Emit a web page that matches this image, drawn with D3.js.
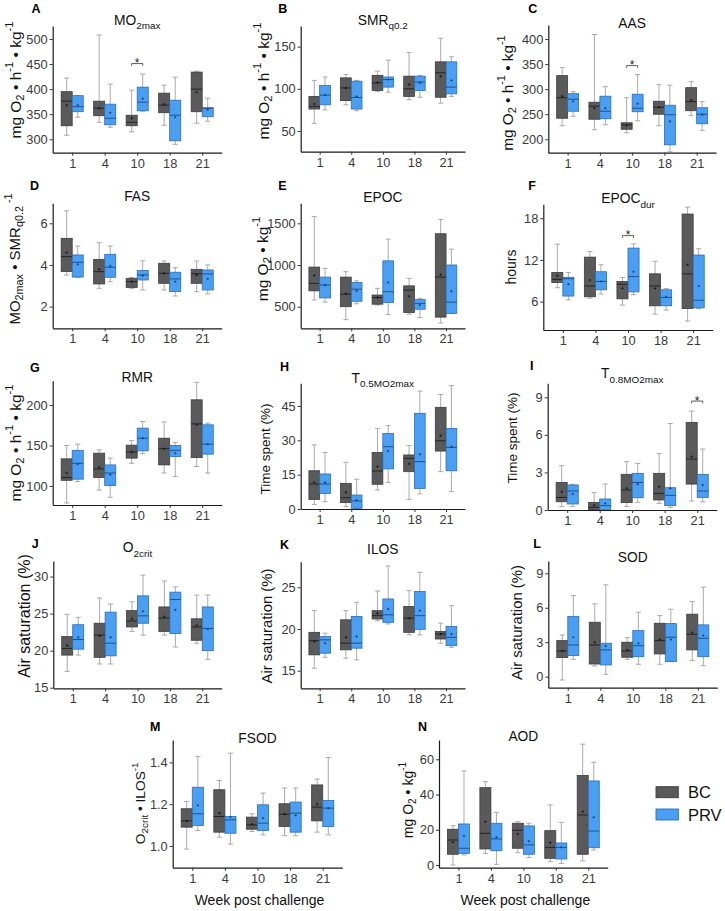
<!DOCTYPE html>
<html><head><meta charset="utf-8">
<script src="https://cdn.jsdelivr.net/npm/d3@7/dist/d3.min.js"></script>
<style>body{margin:0;background:#fff}svg{display:block}</style>
</head><body>
<script>
// ---------- DATA ----------
const weeks = ["1","4","10","18","21"];
const groups = ["BC","PRV"];
// each row: [whiskerLow, q1, median, q3, whiskerHigh, mean] per week
const mo2maxBC  = [[308,327,376,395,422,368],[334,347,362,376,508,362],[315,327,334,348,398,342],[328,353,368,392,408,370],[332,355,400,434,436,394]];
const mo2maxPRV = [[344,355,365,387,387,368],[324,329,342,370,410,353],[356,357,374,404,430,381],[290,297,348,378,424,344],[336,345,362,363,382,359]];
const smrBC  = [[59,76,79,91,110,82],[81,86,101,113,117,101],[97,98,107,116,121,107.5],[87,91,100,115,143,105],[83,90,119,132,160,115]];
const smrPRV = [[75,81,92.5,104,114,92.5],[74,76,89.7,109,110,91],[96,102,111,114,134,111],[90,98,108,115,116,107],[91,94,102,132,138,110]];
const aasBC  = [[227,242,283,327,343,286],[219,240,266,274,409,262],[213,220,229,233,283,227],[227,250,264,276,309,264],[247,257,275,303,315,278]];
const aasPRV = [[246,256,280,291,295,276],[229,241,256,286,305,262],[237,255,262,290,329,271],[175,189,249,268,308,236],[218,231,250,263,275,249]];
const fasBC  = [[3.52,3.68,4.4,5.28,6.6,4.6],[2.88,3.09,3.68,4.27,5.07,3.79],[2.88,2.92,3.2,3.36,3.4,3.2],[2.8,3.12,3.6,4.08,4.19,3.6],[2.72,3.12,3.58,3.79,4.19,3.52]];
const fasPRV = [[3.41,3.42,4.13,4.48,4.91,4.03],[3.2,3.41,3.89,4.51,4.91,3.95],[2.8,3.28,3.52,3.73,4.2,3.49],[2.51,2.72,3.33,3.65,3.87,3.2],[2.61,2.8,3.57,3.76,4.0,3.33]];
const epocBC  = [[580,690,780,975,1580,875],[345,500,650,855,920,655],[520,530,610,640,720,610],[410,430,700,750,840,625],[305,375,855,1375,1545,885]];
const epocPRV = [[555,605,760,855,960,760],[535,565,710,790,810,690],[405,550,680,1050,1310,790],[370,470,540,585,600,520],[420,420,555,1000,1190,685]];
const epocDurBC  = [[8.0,8.74,9.2,10.2,14.26,9.74],[6.5,6.7,8.25,12.4,13.2,9.1],[5.5,6.4,8.5,8.9,9.46,7.9],[4.2,5.4,8.25,10.0,11.8,7.9],[3.2,5.0,10.0,18.6,19.6,11.3]];
const epocDurPRV = [[6.24,6.8,9.3,9.5,10.2,8.5],[7.1,7.7,8.9,10.3,11.3,8.9],[7.0,7.4,9.6,13.7,14.3,10.3],[4.8,5.4,6.6,7.7,7.9,6.7],[5.0,5.1,6.2,12.7,13.6,8.25]];
const rmrBC  = [[79,107,110.5,133.5,150,116],[95,110.5,121,140.5,144.6,123],[128,134.4,142,150.4,156,142],[116,126,146,159,179,146],[124,135,176.7,206.4,228,175.5]];
const rmrPRV = [[105.6,108.4,128,144,151.6,127],[86,100.6,116,126,134.4,114],[139.7,143.4,159,171.4,179.6,159],[111.7,136.4,144,150,153.7,140.5],[116,139.3,151.6,175.5,177.6,151.6]];
const t05BC  = [[2.0,4.2,10.9,16.7,28,11.6],[1.0,2.8,4.9,11.2,20.4,7.3],[8.3,10.8,16.6,24.7,35.2,18.5],[4.2,16.3,22.1,23.6,27.7,19.7],[16.3,25.3,29.8,44.4,50,32]];
const t05PRV = [[3.2,6.8,10.9,15.3,24.7,11.6],[0.3,0.3,3.5,6.1,13,3.9],[11.6,17.5,27.2,33,36.4,25.3],[6.6,9.0,20.7,41.8,51.5,23.9],[7.6,16.7,26.9,35.2,53.9,27.2]];
const t08BC  = [[0.27,0.66,1.0,2.2,3.54,1.46],[0,0,0.21,0.61,1.38,0.37],[0.27,0.59,1.6,2.85,3.86,1.73],[0.53,0.8,1.33,2.93,4.52,1.86],[0.72,2.07,4.07,7.0,7.9,4.26]];
const t08PRV = [[0.27,0.48,1.52,2.0,2.05,1.28],[0,0,0.35,0.88,2.07,0.53],[0.61,0.98,2.2,2.93,3.72,2.07],[0.21,0.35,1.17,1.78,6.91,1.73],[0.66,1.01,1.52,2.85,4.87,1.99]];
const o2critBC  = [[17.2,19.4,20.3,21.9,24.9,20.7],[18.2,19.1,22.1,23.7,27.1,22.0],[22.6,23.2,24.0,25.4,26.6,24.3],[22.1,22.6,24.4,25.9,29.4,24.6],[21.0,21.4,23.2,24.3,27.5,23.4]];
const o2critPRV = [[19.4,20.2,21.5,23.5,24.5,21.8],[18.2,19.3,21.0,25.2,26.3,21.8],[22.1,23.7,24.7,27.4,30.2,25.3],[20.5,22.3,26.9,27.9,28.6,25.5],[18.8,20.0,23.0,25.9,27.5,22.9]];
const ilosBC  = [[15.3,16.9,18.6,19.6,22.2,18.5],[16.5,17.5,18.3,21.1,22.2,19.0],[21.0,21.2,21.6,22.2,24.56,21.9],[19.3,19.6,21.3,22.7,24.6,21.3],[18.3,18.8,19.4,19.7,20.7,19.4]];
const ilosPRV = [[16.6,17.1,18.7,19.1,19.5,18.3],[16.3,17.7,18.3,21.5,23.2,19.1],[20.6,20.8,21.7,23.6,27.56,22.4],[19.3,19.96,21.6,24.5,26.8,22.2],[17.8,18.0,19.0,20.3,22.8,19.4]];
const sodBC  = [[-0.29,1.66,2.24,3.14,3.63,2.24],[0.93,1.1,2.76,4.74,6.34,2.99],[1.51,1.69,2.24,3.0,3.4,2.33],[1.08,1.98,3.14,4.65,5.32,3.23],[1.4,2.33,3.69,5.44,6.54,3.84]];
const sodPRV = [[1.51,1.83,2.76,5.23,7.06,3.43],[0.2,1.02,2.33,2.91,7.99,2.67],[1.08,1.74,2.7,4.01,5.61,2.9],[1.31,1.31,3.43,4.62,5.87,3.23],[0.96,1.74,3.34,4.51,7.79,3.58]];
const fsodBC  = [[0.985,1.09,1.12,1.178,1.213,1.12],[1.042,1.066,1.141,1.269,1.313,1.157],[1.069,1.08,1.101,1.138,1.154,1.104],[1.049,1.093,1.152,1.202,1.277,1.152],[1.066,1.12,1.186,1.292,1.32,1.2]];
const fsodPRV = [[1.074,1.098,1.154,1.281,1.428,1.194],[1.009,1.061,1.125,1.141,1.444,1.138],[1.053,1.074,1.109,1.197,1.253,1.133],[1.049,1.066,1.157,1.21,1.277,1.146],[1.053,1.093,1.181,1.218,1.423,1.181]];
const aodBC  = [[0,6.1,14.2,20.3,22.3,12.9],[6.6,9.1,18,43.9,47.3,24.6],[7.0,9.5,19.7,23.7,24.6,17.6],[1.9,3.8,10.0,19.5,34.1,12.7],[2.3,6.1,28.4,50.8,68.6,30.3]];
const aodPRV = [[5.7,6.6,9.5,23.3,53.4,16.5],[0.4,8.1,14.8,23.7,29.9,15.7],[4.2,6.1,11.4,22.2,23.7,13.6],[0.9,3.4,10.0,12.5,24.2,10.0],[8.5,9.8,19.3,47.7,58.3,27.1]];

const ticksA = [300,350,400,450,500];
const ticksB = [50,100,150];
const ticksC = [200,250,300,350,400];
const ticksD = [2,4,6];
const ticksE = [500,1000,1500];
const ticksF = [6,12,18];
const ticksG = [100,150,200];
const ticksH = [0,15,30,45];
const ticksI = [0,3,6,9];
const ticksJ = [15,20,25,30];
const ticksK = [15,20,25];
const ticksL = [0,3,6,9];
const ticksM = [1.0,1.2,1.4];
const ticksN = [0,20,40,60];

// significance marks: [panel, week, y value]
const sigMarks = [["A","10",451],["C","10",347],["F","10",15.5],["I","21",8.7]];

// ---------- TEXT ----------
const unitRate = [["mg O",""],["2","sub"],[" • h",""],["-1","sup"],[" • kg",""],["-1","sup"]];
const unitMass = [["mg O",""],["2","sub"],[" • kg",""],["-1","sup"]];
const airSat = [["Air saturation (%)",""]];
const timeSpent = [["Time spent (%)",""]];

// ---------- LAYOUT ----------
const panels = [
 {id:"A", bc:mo2maxBC, prv:mo2maxPRV, ticks:ticksA, dom:[273.3,525.9], L:52.7,R:221.7,T:26,B:152.7, tY:25, lX:31.5, lY:12.5, yl:unitRate, ylX:15, ylY:80, ylF:15.5, title:[["MO",""],["2max","sub"]]},
 {id:"B", bc:smrBC, prv:smrPRV, ticks:ticksB, dom:[25.4,174.5], L:300.7,R:465,T:26,B:151.7, tY:25, lX:278.3, lY:12.5, yl:unitRate, ylX:263, ylY:81, ylF:15.5, title:[["SMR",""],["q0.2","sub"]]},
 {id:"C", bc:aasBC, prv:aasPRV, ticks:ticksC, dom:[173.3,428], L:548.3,R:716,T:25,B:152.7, tY:28, lX:528.3, lY:12.5, yl:unitRate, ylX:507, ylY:93, ylF:15.3, title:[["AAS",""]]},
 {id:"D", bc:fasBC, prv:fasPRV, ticks:ticksD, dom:[0.96,6.96], L:52.7,R:221.7,T:203.3,B:328.3, tY:200.7, lX:30, lY:190, yl:[["MO",""],["2max","sub"],[" • SMR",""],["q0.2","sub"],[" -1","sup"]], ylX:14, ylY:259, ylF:15, title:[["FAS",""]]},
 {id:"E", bc:epocBC, prv:epocPRV, ticks:ticksE, dom:[241,1740], L:300.7,R:465,T:203.3,B:328.3, tY:202.3, lX:278.3, lY:190, yl:unitMass, ylX:262, ylY:259, ylF:15.5, title:[["EPOC",""]]},
 {id:"F", bc:epocDurBC, prv:epocDurPRV, ticks:ticksF, dom:[1.92,20.0], L:543.3,R:712.7,T:204.3,B:330, tY:203.3, lX:528.3, lY:190, yl:[["hours",""]], ylX:511, ylY:267, ylF:14, title:[["EPOC",""],["dur","sub"]]},
 {id:"G", bc:rmrBC, prv:rmrPRV, ticks:ticksG, dom:[76.5,230], L:52.7,R:221.7,T:380.7,B:505, tY:382.3, lX:30, lY:371.7, yl:unitRate, ylX:15, ylY:443, ylF:15.5, title:[["RMR",""]]},
 {id:"H", bc:t05BC, prv:t05PRV, ticks:ticksH, dom:[0,54.9], L:300.7,R:465,T:383.3,B:509, tY:383, lX:280, lY:371, yl:timeSpent, ylX:265, ylY:449, ylF:13.5, title:[["T",""],["0.5MO2max","sub"]]},
 {id:"I", bc:t08BC, prv:t08PRV, ticks:ticksI, dom:[0,10.12], L:547.7,R:716.7,T:383.3,B:510, tY:378.3, lX:530, lY:370, yl:timeSpent, ylX:511.5, ylY:438, ylF:13.5, title:[["T",""],["0.8MO2max","sub"]]},
 {id:"J", bc:o2critBC, prv:o2critPRV, ticks:ticksJ, dom:[14.92,32.1], L:53.3,R:221.7,T:561,B:688.3, tY:552.3, lX:31.7, lY:548.3, yl:airSat, ylX:24, ylY:616, ylF:16, title:[["O",""],["2crit","sub"]]},
 {id:"K", bc:ilosBC, prv:ilosPRV, ticks:ticksK, dom:[12.89,28.07], L:300.7,R:465,T:561.7,B:688.3, tY:554.3, lX:280, lY:549.3, yl:airSat, ylX:266.5, ylY:626, ylF:14.9, title:[["ILOS",""]]},
 {id:"L", bc:sodBC, prv:sodPRV, ticks:ticksL, dom:[-0.96,10.07], L:548.3,R:717.3,T:561,B:687.7, tY:562.3, lX:533.3, lY:548.3, yl:airSat, ylX:516.5, ylY:622.5, ylF:14.9, title:[["SOD",""]]},
 {id:"M", bc:fsodBC, prv:fsodPRV, ticks:ticksM, dom:[0.896,1.507], L:172.7,R:342.3,T:740,B:867.7, tY:743.3, lX:150, lY:730.7, yl:[["O",""],["2crit","sub"],[" • ILOS",""],["-1","sup"]], ylX:140, ylY:803.3, ylF:13.7, title:[["FSOD",""]], fmt:".1f", xt:true},
 {id:"N", bc:aodBC, prv:aodPRV, ticks:ticksN, dom:[-1.53,70.95], L:439,R:607.7,T:740,B:867.7, tY:741, lX:418, lY:730.5, yl:unitMass, ylX:408, ylY:800, ylF:14, title:[["AOD",""]], xt:true}
];

const fill = {BC:"#5a5a5a", PRV:"#4a9ff2"};
const stroke = {BC:"#3c3c3c", PRV:"#2b6db4"};
const medCol = {BC:"#242424", PRV:"#1d5294"};
const meanCol = {BC:"#111111", PRV:"#16396a"};
const whiskCol = "#a0a0a0";
const FONT = "'Liberation Sans', Arial, Helvetica, sans-serif";

const svg = d3.select("body").append("svg").attr("width",725).attr("height",911)
  .style("font-family", FONT);
svg.append("rect").attr("width",725).attr("height",911).attr("fill","#fff");

function rich(t, segs, fs) {
  let shift = 0;
  segs.forEach(([s, k]) => {
    const target = k === "sub" ? fs*0.32 : k === "sup" ? -fs*0.42 : 0;
    t.append("tspan").text(s).attr("dy", (target - shift).toFixed(2))
      .attr("font-size", k ? fs*0.72 : fs);
    shift = target;
  });
}

panels.forEach(p => {
  const g = svg.append("g");
  const x = d3.scalePoint().domain(weeks).range([p.L, p.R]).padding(0.6);
  const y = d3.scaleLinear().domain(p.dom).range([p.B, p.T]);
  const step = x.step(), bw = step*0.34, cap = step*0.16;

  // boxes
  [[p.bc,"BC",-1],[p.prv,"PRV",1]].forEach(([arr, grp, side]) => {
    arr.forEach((d, i) => {
      const [wb, q1, med, q3, wt, mean] = d;
      const cx = x(weeks[i]) + side*bw/2;
      const bg = g.append("g");
      bg.append("line").attr("x1",cx).attr("x2",cx).attr("y1",y(wb)).attr("y2",y(wt))
        .attr("stroke",whiskCol).attr("stroke-width",0.9);
      [wb, wt].forEach(v => bg.append("line").attr("x1",cx-cap/2).attr("x2",cx+cap/2)
        .attr("y1",y(v)).attr("y2",y(v)).attr("stroke",whiskCol).attr("stroke-width",0.9));
      bg.append("rect").attr("x",cx-bw/2).attr("width",bw).attr("y",y(q3))
        .attr("height",Math.max(0.5,y(q1)-y(q3))).attr("fill",fill[grp])
        .attr("stroke",stroke[grp]).attr("stroke-width",0.8);
      bg.append("line").attr("x1",cx-bw/2).attr("x2",cx+bw/2).attr("y1",y(med)).attr("y2",y(med))
        .attr("stroke",medCol[grp]).attr("stroke-width",1);
      const my = y(mean);
      bg.append("path").attr("d",`M${cx-1.2},${my}H${cx+1.2}M${cx},${my-1.2}V${my+1.2}`)
        .attr("stroke",meanCol[grp]).attr("stroke-width",0.8);
    });
  });

  // axes
  const ya = g.append("g").attr("transform",`translate(${p.L},0)`)
    .call(d3.axisLeft(y).tickValues(p.ticks).tickSize(3).tickSizeOuter(0).tickPadding(2)
      .tickFormat(d3.format(p.fmt || "")));
  const xa = g.append("g").attr("transform",`translate(0,${p.B})`)
    .call(d3.axisBottom(x).tickSize(3).tickSizeOuter(0).tickPadding(3));
  [ya, xa].forEach(a => {
    a.select(".domain").attr("stroke","#1a1a1a").attr("stroke-width",1.2);
    a.selectAll(".tick line").attr("stroke","#333").attr("stroke-width",1);
    a.selectAll(".tick text").attr("fill","#3a3a3a").attr("font-size",12.8).attr("font-family",FONT);
  });

  // significance
  sigMarks.filter(s => s[0] === p.id).forEach(([, wk, v]) => {
    const x1 = x(wk) - bw/2, x2 = x(wk) + bw/2, yy = y(v);
    g.append("path").attr("d",`M${x1},${yy+2.2}V${yy}H${x2}V${yy+2.2}`)
      .attr("fill","none").attr("stroke","#333").attr("stroke-width",0.8);
    g.append("text").attr("x",(x1+x2)/2).attr("y",yy+3.5).attr("text-anchor","middle")
      .attr("font-size",12).attr("fill","#222").text("*");
  });

  // title
  const tt = g.append("text").attr("x",(p.L+p.R)/2).attr("y",p.tY).attr("text-anchor","middle")
    .attr("fill","#111");
  rich(tt, p.title, 13.8);

  // panel letter
  g.append("text").attr("x",p.lX).attr("y",p.lY).attr("font-weight","bold")
    .attr("font-size",12.5).attr("fill","#000").text(p.id);

  // y label
  const yl = g.append("text").attr("transform",`translate(${p.ylX},${p.ylY}) rotate(-90)`)
    .attr("text-anchor","middle").attr("dominant-baseline","central").attr("fill","#111");
  rich(yl, p.yl, p.ylF);

  if (p.xt) {
    g.append("text").attr("x",(p.L+p.R)/2 + 2).attr("y",905).attr("text-anchor","middle")
      .attr("font-size",14).attr("fill","#111").text("Week post challenge");
  }
});

// legend
const leg = svg.append("g");
groups.forEach((grp, i) => {
  const yy = 786.7 + i*22.3;
  leg.append("rect").attr("x",656).attr("y",yy).attr("width",22.3).attr("height",11)
    .attr("fill",fill[grp]).attr("stroke",stroke[grp]).attr("stroke-width",0.9);
  leg.append("text").attr("x",688).attr("y",yy+5.5).attr("dominant-baseline","central")
    .attr("font-size",16.5).attr("fill","#111").text(grp);
});
</script>
</body></html>
